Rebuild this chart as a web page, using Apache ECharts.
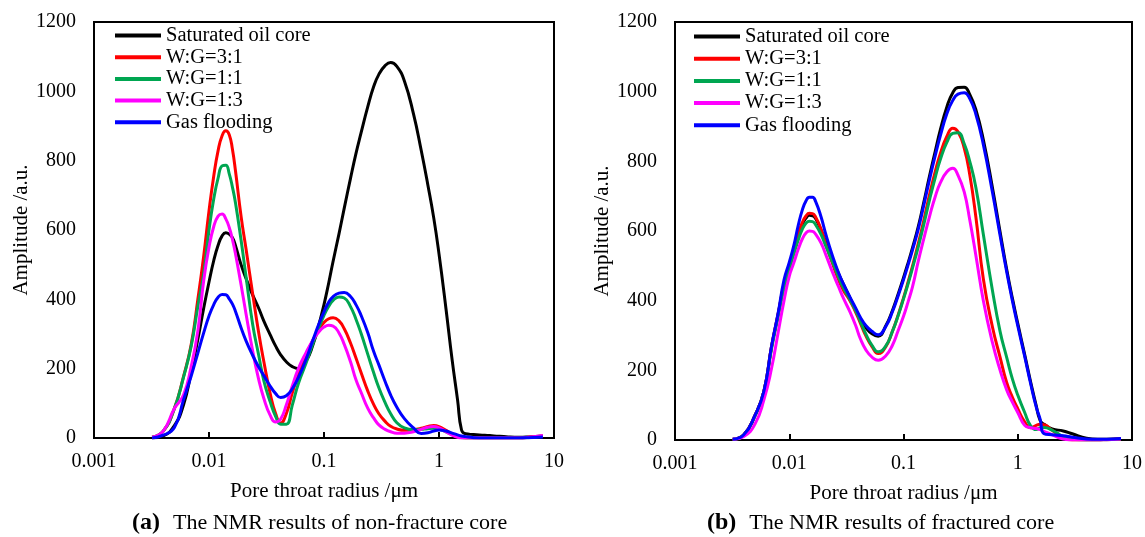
<!DOCTYPE html>
<html><head><meta charset="utf-8">
<script src="https://cdn.jsdelivr.net/npm/echarts@6/dist/echarts.min.js"></script>
<style>html,body{margin:0;padding:0;background:#fff}#c{width:1145px;height:537px}</style>
</head><body><div id="c"></div>
<script>
// Pore throat radius grid (µm), shared by all series
const radius = [0.0032,0.004,0.005,0.006,0.007,0.008,0.009,0.01,0.011,0.012,0.013,0.014,0.015,0.016,0.017,0.019,0.021,0.024,0.027,0.03,0.034,0.038,0.042,0.047,0.053,0.06,0.07,0.08,0.09,0.1,0.11,0.12,0.135,0.15,0.17,0.19,0.21,0.24,0.27,0.3,0.34,0.38,0.43,0.5,0.6,0.7,0.8,0.9,1.0,1.15,1.3,1.45,1.57,1.7,2,2.5,3,4,5,6,8];

const seriesNames = ['Saturated oil core','W:G=3:1','W:G=1:1','W:G=1:3','Gas flooding'];
const seriesColors = ['#000000','#FF0000','#00A651','#FF00FF','#0000FF'];

// (a) non-fracture core
const satA   = [0,6,36,95,190,285,375,450,512,556,583,592,588,578,555,500,460,412,375,337,298,265,240,220,206,200,222,268,325,385,448,510,589,663,749,822,880,955,1013,1049,1074,1083,1072,1030,935,830,730,635,531,373,226,110,23,12,10,8,6,3,2,3,6];
const wg31A  = [2,20,85,177,270,400,526,655,756,829,872,886,875,832,770,640,545,415,305,220,129,70,43,70,130,185,240,282,313,333,344,347,338,315,274,230,189,136,97,70,48,34,26,22,24,28,33,36,33,22,12,5,2,0,0,0,0,0,0,2,6];
const wg11A  = [2,20,85,175,265,380,475,600,690,750,785,787,762,723,678,571,465,327,240,165,105,62,40,40,95,158,217,272,317,354,380,397,407,404,379,342,302,242,189,145,102,70,44,29,24,25,27,28,26,18,10,4,1,0,0,0,0,0,0,1,4];
const wg13A  = [2,20,85,124,206,309,455,550,610,640,646,632,607,572,531,442,358,250,170,114,66,46,55,95,150,201,247,282,306,320,325,323,303,270,220,167,132,86,58,38,25,18,14,14,18,25,31,33,29,18,8,2,0,0,0,0,0,0,0,2,7];
const gasA   = [0,8,30,110,179,245,304,352,385,406,414,413,401,386,365,318,280,238,205,180,150,128,117,122,142,175,228,282,328,364,392,408,418,420,408,384,354,304,250,211,163,124,89,56,29,13,15,20,23,20,14,9,6,4,1,0,0,0,0,1,3];

// (b) fractured core
const satB   = [2,15,70,140,268,362,448,498,543,586,619,637,645,644,636,602,565,518,478,445,408,374,348,322,305,298,328,372,420,466,510,552,614,680,762,830,890,957,997,1012,1013,992,948,862,725,598,490,405,335,245,165,99,56,45,32,26,18,5,2,2,4];
const wg31B  = [2,15,70,140,268,362,445,495,545,590,624,643,651,650,640,605,560,505,460,428,400,368,335,298,268,248,268,312,360,408,455,500,565,628,708,772,822,872,895,885,838,762,640,462,325,238,165,122,90,52,35,42,45,44,28,6,0,0,0,1,3];
const wg11B  = [2,14,68,138,262,355,435,490,535,575,605,622,628,627,618,590,555,510,468,435,403,372,340,303,272,253,270,312,358,405,450,494,556,617,693,755,805,855,880,882,850,800,725,590,430,312,237,174,129,79,40,30,35,36,28,10,2,0,0,1,3];
const wg13B  = [2,10,45,115,206,309,400,470,510,548,577,594,600,599,591,565,530,480,440,405,368,330,290,258,238,229,242,272,315,355,398,440,515,576,645,700,738,770,780,760,712,632,530,400,280,201,144,108,79,42,35,33,30,25,15,3,0,0,0,1,3];
const gasB   = [2,15,70,140,270,365,460,510,560,617,660,686,697,697,685,640,588,527,480,446,410,380,352,328,312,302,326,368,415,460,504,546,607,672,752,818,873,937,975,993,997,980,935,848,712,588,483,398,328,240,160,95,60,18,15,12,8,3,2,2,4];

const panelA = [satA, wg31A, wg11A, wg13A, gasA];
const panelB = [satB, wg31B, wg11B, wg13B, gasB];
const xTickLabels = ['0.001','0.01','0.1','1','10'];
const yMin = 0, yMax = 1200, yStep = 200;
const xTitle = 'Pore throat radius /\u03bcm';
const yTitle = 'Amplitude /a.u.';
const captions = [['(a)','The NMR results of non-fracture core'],['(b)','The NMR results of fractured core']];

const FONT = 'Liberation Serif';
const chart = echarts.init(document.getElementById('c'), null, {renderer:'canvas'});

function xAxisCfg(gi){
  return {
    type:'log', logBase:10, min:0.001, max:10, gridIndex:gi,
    axisLine:{show:true, onZero:false, lineStyle:{color:'#000', width:2}},
    axisTick:{show:true, inside:true, length:6, lineStyle:{color:'#000', width:2}},
    minorTick:{show:false}, splitLine:{show:false},
    axisLabel:{color:'#000', fontFamily:FONT, fontSize:20, margin:14,
      formatter:function(v){ const s = String(Number(Number(v).toPrecision(3))); return xTickLabels.indexOf(s) >= 0 ? s : ''; }},
    name:xTitle, nameLocation:'middle', nameGap:43,
    nameTextStyle:{color:'#000', fontFamily:FONT, fontSize:21}
  };
}
function yAxisCfg(gi){
  return {
    type:'value', min:yMin, max:yMax, interval:yStep, gridIndex:gi,
    axisLine:{show:true, lineStyle:{color:'#000', width:2}},
    axisTick:{show:false}, splitLine:{show:false},
    axisLabel:{color:'#000', fontFamily:FONT, fontSize:20, margin:18,
      formatter:function(v){ return String(v); }},
    name:yTitle, nameLocation:'middle', nameGap:60, nameRotate:90,
    nameTextStyle:{color:'#000', fontFamily:FONT, fontSize:21}
  };
}
function legendCfg(left, top, gap){
  return {
    data:seriesNames, orient:'vertical', left:left, top:top, padding:0,
    icon:'rect', itemWidth:46, itemHeight:4, itemGap:gap, selectedMode:false,
    textStyle:{color:'#000', fontFamily:FONT, fontSize:20.5, lineHeight:20}
  };
}
const series = [];
[panelA, panelB].forEach(function(panel, pi){
  panel.forEach(function(vals, si){
    series.push({
      name:seriesNames[si], type:'line', xAxisIndex:pi, yAxisIndex:pi,
      data: radius.map(function(r, i){ return [r, vals[i]]; }),
      smooth:0.5, symbol:'none', showSymbol:false,
      lineStyle:{color:seriesColors[si], width:3, join:'round'},
      itemStyle:{color:seriesColors[si]},
      emphasis:{disabled:true}, animation:false
    });
  });
});
const graphic = captions.map(function(c, i){
  return {
    type:'text', left: i===0 ? 132 : 707, top:511,
    style:{
      text:'{b|' + c[0] + '}{t|' + c[1] + '}',
      rich:{
        b:{fontFamily:FONT, fontWeight:'bold', fontSize:24, fill:'#000', padding:[0,13,0,0]},
        t:{fontFamily:FONT, fontSize:22, fill:'#000'}
      }
    }
  };
});
chart.setOption({
  animation:false,
  backgroundColor:'#fff',
  grid:[
    {left:94, top:22, width:460, height:416, show:true, borderColor:'#000', borderWidth:2, backgroundColor:'transparent'},
    {left:675, top:22, width:460, height:418, show:true, borderColor:'#000', borderWidth:2, backgroundColor:'transparent'}
  ],
  xAxis:[xAxisCfg(0), xAxisCfg(1)],
  yAxis:[yAxisCfg(0), yAxisCfg(1)],
  legend:[legendCfg(115, 25, 0.7), legendCfg(694, 26, 1.2)],
  series:series,
  graphic:graphic
});
</script></body></html>
